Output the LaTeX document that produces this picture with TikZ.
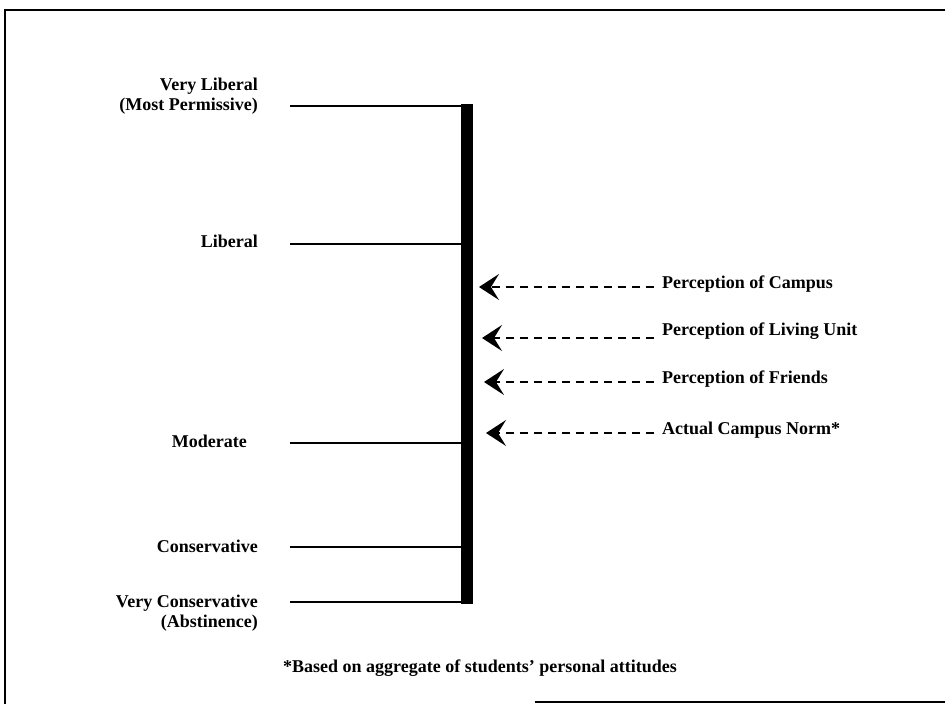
\documentclass[tikz,border=0pt]{standalone}
\usepackage{fontspec}
\setmainfont{Liberation Serif}
\usetikzlibrary{arrows.meta}
\begin{document}
\begin{tikzpicture}[x=1pt,y=-1pt,
  lab/.style={font=\bfseries\fontsize{18}{20}\selectfont, inner sep=0pt, align=right},
  rlab/.style={font=\bfseries\fontsize{18}{20}\selectfont, inner sep=0pt, anchor=west},
  tick/.style={line width=2pt},
  perc/.style={dashed, dash pattern=on 8pt off 6pt, line width=1.6pt, -{Stealth[length=20pt,width=26pt,inset=8pt]}}]
\useasboundingbox (0,0) rectangle (945,704);
\draw[line width=2pt] (5,704) -- (5,10) -- (945,10);
\draw[line width=2pt] (535,702) -- (945,702);
% bar
\fill (461,104) rectangle (473,604);
\coordinate (b1) at (461,106);
\coordinate (b2) at (461,244);
\coordinate (b3) at (461,443);
\coordinate (b4) at (461,547);
\coordinate (b5) at (461,602);
\coordinate (s1) at (290,106);
\coordinate (s2) at (290,244);
\coordinate (s3) at (290,443);
\coordinate (s4) at (290,547);
\coordinate (s5) at (290,602);
\draw[tick] (s1) -- (b1);
\draw[tick] (s2) -- (b2);
\draw[tick] (s3) -- (b3);
\draw[tick] (s4) -- (b4);
\draw[tick] (s5) -- (b5);
\node[lab, anchor=east] (l1) at (258,96) {Very Liberal\\(Most Permissive)};
\node[lab, anchor=east] (l2) at (258,241) {Liberal};
\node[lab, anchor=east] (l3) at (247,441) {Moderate};
\node[lab, anchor=east] (l4) at (258,546) {Conservative};
\node[lab, anchor=east] (l5) at (258,613) {Very Conservative\\(Abstinence)};
% perception labels
\node[rlab] (p1) at (662,284) {Perception of Campus};
\node[rlab] (p2) at (662,331) {Perception of Living Unit};
\node[rlab] (p3) at (662,379) {Perception of Friends};
\node[rlab] (p4) at (662,430) {Actual Campus Norm*};
\coordinate (a1) at (479,287);
\coordinate (a2) at (482,338);
\coordinate (a3) at (484,382);
\coordinate (a4) at (486,433);
\draw[perc] (654,287) -- (a1);
\draw[perc] (654,338) -- (a2);
\draw[perc] (654,382) -- (a3);
\draw[perc] (654,433) -- (a4);
\node[font=\bfseries\fontsize{18}{20}\selectfont, inner sep=0pt] (fn) at (480,668) {*Based on aggregate of students' personal attitudes};
\end{tikzpicture}
\end{document}
